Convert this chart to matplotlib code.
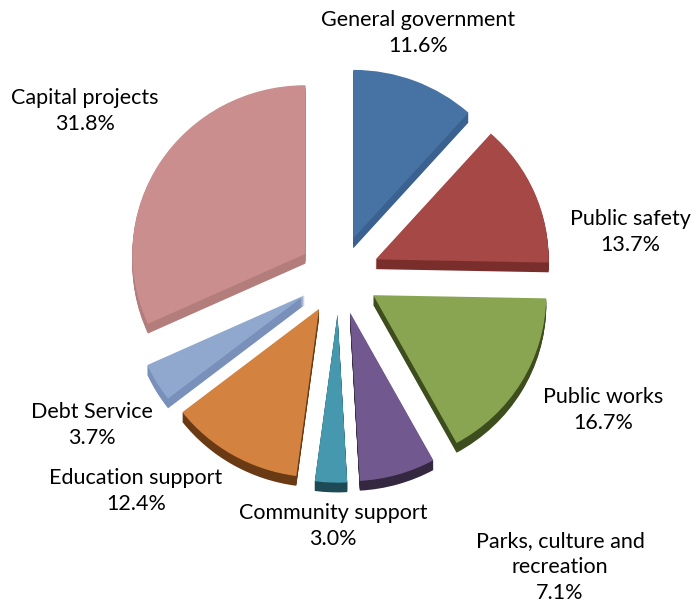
import numpy as np
import matplotlib
matplotlib.use("Agg")
from matplotlib import pyplot as plt
from matplotlib.transforms import Affine2D

# Spending shares by category (percent), clockwise from 12 o'clock
categories = ["General government", "Public safety", "Public works",
              "Parks, culture and\nrecreation", "Community support",
              "Education support", "Debt Service", "Capital projects"]
shares = [11.6, 13.7, 16.7, 7.1, 3.0, 12.4, 3.7, 31.8]

top_colors = ["#4672A4", "#A54846", "#89A552", "#71588F",
              "#4598AE", "#D4823F", "#91A8CE", "#C98E8D"]
side_colors = ["#3B6190", "#7A2E2C", "#3E4D1E", "#33283F",
               "#1E4A55", "#6A3A14", "#7890BA", "#B37D7C"]

# label anchor points (pixel coords, top-left origin)
label_pos = [(418, 33), (630, 232), (603, 410), (560, 567),
             (333, 526), (136, 491), (92, 425), (85, 111)]

W, H = 692, 606
fig = plt.figure(figsize=(W / 100, H / 100), dpi=100)
ax = fig.add_axes([0, 0, 1, 1])

cx, cy = 339, H - 275
radius = 173
explode = [40] * len(shares)   # offset in pixels
depth = 10
tilt = 0.975

# squash the disc a little vertically for the 3-D look
squash = Affine2D().translate(-cx, -cy).scale(1, tilt).translate(cx, cy)

def draw_layer(center, colors):
    wedges, _ = ax.pie(shares, radius=radius, center=center, startangle=90,
                       counterclock=False, explode=explode, colors=colors,
                       wedgeprops=dict(linewidth=0))
    for w in wedges:
        w.set_transform(squash + ax.transData)

# extruded sides first, then the top faces
for d in range(depth, 0, -1):
    draw_layer((cx, cy - d), side_colors)
draw_layer((cx, cy), top_colors)

for name, val, (x, y) in zip(categories, shares, label_pos):
    ax.text(x, H - y, f"{name}\n{val:.1f}%", ha="center", va="center",
            fontsize=15.5, family="Lato", linespacing=1.4,
            color="black")

ax.set_xlim(0, W)
ax.set_ylim(0, H)
ax.set_aspect("equal")
ax.axis("off")

fig.savefig("out.png", dpi=100)
